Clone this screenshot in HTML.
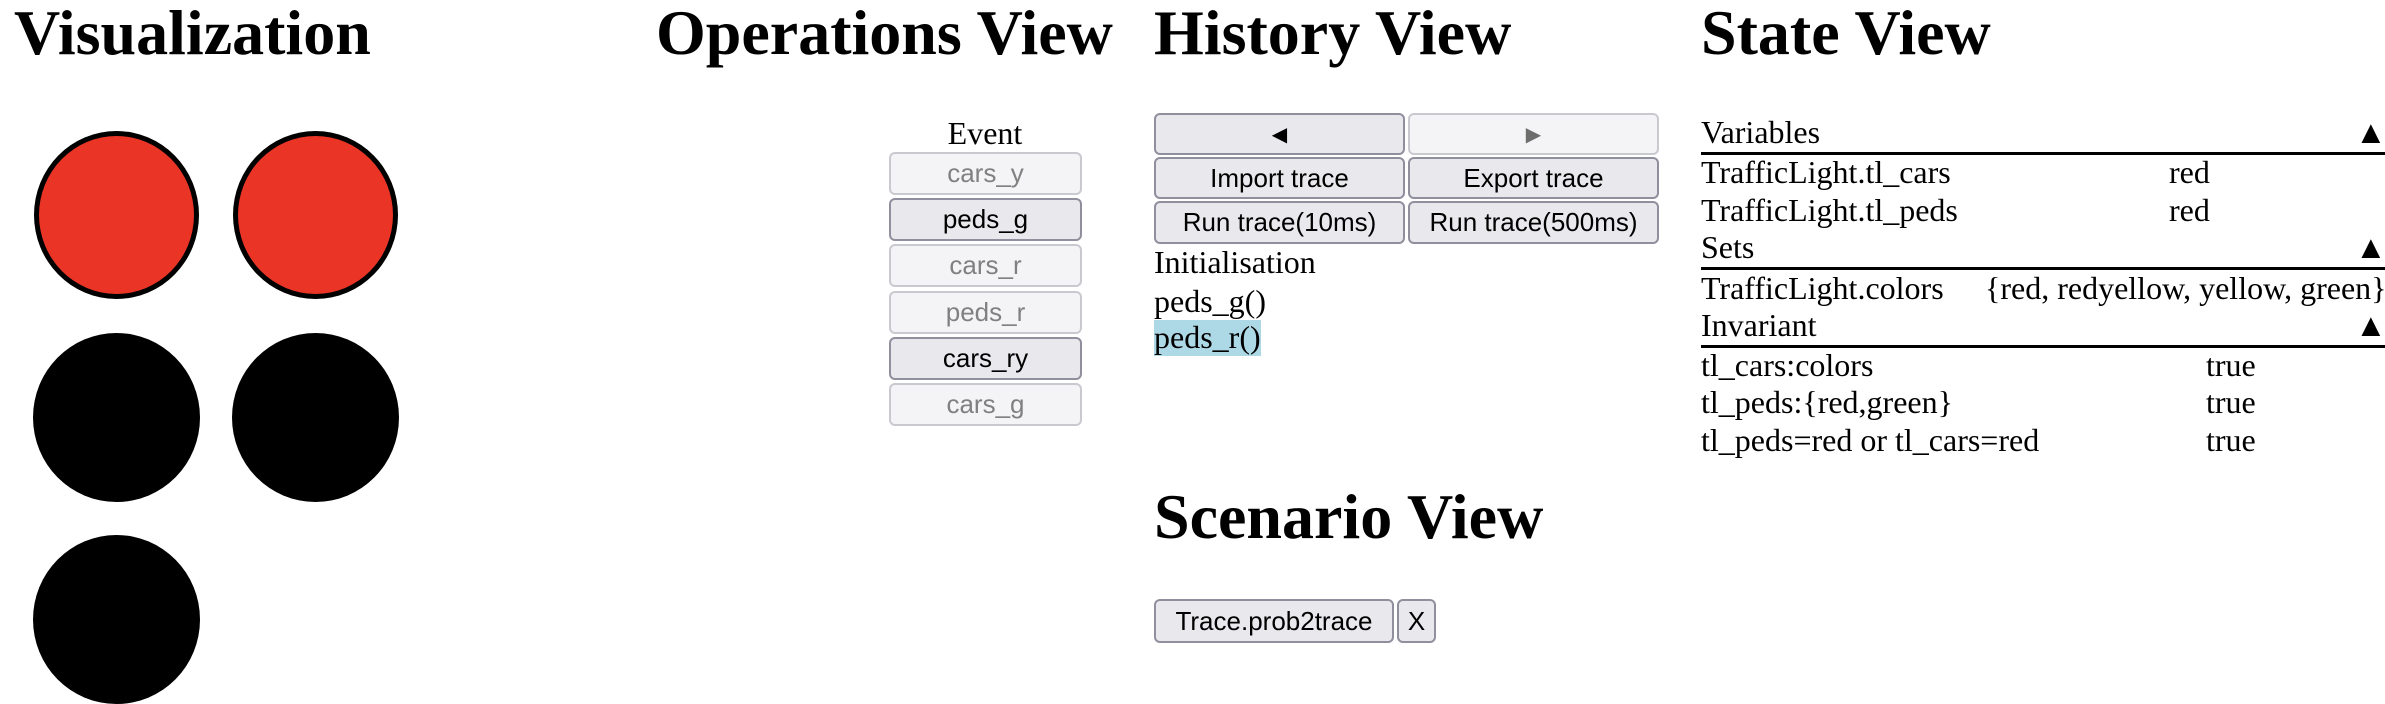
<!DOCTYPE html>
<html><head><meta charset="utf-8"><style>
body{margin:0;width:2385px;height:702px;background:#fff;position:relative;overflow:hidden;font-family:"Liberation Serif",serif;color:#000}
.a{position:absolute;white-space:nowrap;line-height:1}
.h{font-weight:bold;font-size:64px}
.t{font-size:32px}
.c{position:absolute;border-radius:50%;box-sizing:border-box}
.b{position:absolute;box-sizing:border-box;border:2px solid #8f8f9d;background:#e9e9ed;border-radius:6px;font-family:"Liberation Sans",sans-serif;font-size:26px;display:flex;align-items:center;justify-content:center;color:#000}
.d{border-color:#c9c9d0;background:#f4f4f6;color:#808080}
.ln{position:absolute;left:1701px;width:684px;height:3px;background:#000}
</style></head><body>
<div class="a h" style="left:14px;top:1px">Visualization</div>
<div class="a h" style="left:656px;top:1px">Operations View</div>
<div class="a h" style="left:1154px;top:1px">History View</div>
<div class="a h" style="left:1701px;top:1px">State View</div>
<div class="a h" style="left:1154px;top:485px">Scenario View</div>

<div class="c" style="left:34px;top:131px;width:165px;height:168px;background:#ea3526;border:5px solid #000"></div>
<div class="c" style="left:233px;top:131px;width:165px;height:168px;background:#ea3526;border:5px solid #000"></div>
<div class="c" style="left:33px;top:333px;width:167px;height:169px;background:#000"></div>
<div class="c" style="left:232px;top:333px;width:167px;height:169px;background:#000"></div>
<div class="c" style="left:33px;top:535px;width:167px;height:169px;background:#000"></div>

<div class="a t" style="left:935px;top:117px;width:100px;text-align:center">Event</div>
<div class="b d" style="left:889px;top:152px;width:193px;height:43px">cars_y</div>
<div class="b" style="left:889px;top:198px;width:193px;height:43px">peds_g</div>
<div class="b d" style="left:889px;top:244px;width:193px;height:43px">cars_r</div>
<div class="b d" style="left:889px;top:291px;width:193px;height:43px">peds_r</div>
<div class="b" style="left:889px;top:337px;width:193px;height:43px">cars_ry</div>
<div class="b d" style="left:889px;top:383px;width:193px;height:43px">cars_g</div>

<div class="b" style="left:1154px;top:113px;width:251px;height:42px;font-size:20px">◀</div>
<div class="b d" style="left:1408px;top:113px;width:251px;height:42px;font-size:20px;color:#6d6d6d">▶</div>
<div class="b" style="left:1154px;top:157px;width:251px;height:42px">Import trace</div>
<div class="b" style="left:1408px;top:157px;width:251px;height:42px">Export trace</div>
<div class="b" style="left:1154px;top:201px;width:251px;height:43px">Run trace(10ms)</div>
<div class="b" style="left:1408px;top:201px;width:251px;height:43px">Run trace(500ms)</div>
<div class="a t" style="left:1154px;top:246px">Initialisation</div>
<div class="a t" style="left:1154px;top:285px">peds_g()</div>
<div style="position:absolute;left:1154px;top:320px;width:107px;height:36px;background:#add8e6"></div>
<div class="a t" style="left:1154px;top:321px">peds_r()</div>

<div class="b" style="left:1154px;top:599px;width:240px;height:44px">Trace.prob2trace</div>
<div class="b" style="left:1397px;top:599px;width:39px;height:44px">X</div>

<div class="a t" style="left:1701px;top:116px">Variables</div>
<div class="a t" style="left:2355px;top:116px">▲</div>
<div class="ln" style="top:152px"></div>
<div class="a t" style="left:1701px;top:156px">TrafficLight.tl_cars</div>
<div class="a t" style="left:2169px;top:156px">red</div>
<div class="a t" style="left:1701px;top:194px">TrafficLight.tl_peds</div>
<div class="a t" style="left:2169px;top:194px">red</div>
<div class="a t" style="left:1701px;top:231px">Sets</div>
<div class="a t" style="left:2355px;top:231px">▲</div>
<div class="ln" style="top:267px"></div>
<div class="a t" style="left:1701px;top:272px">TrafficLight.colors</div>
<div class="a t" style="left:1985px;top:272px">{red, redyellow, yellow, green}</div>
<div class="a t" style="left:1701px;top:309px">Invariant</div>
<div class="a t" style="left:2355px;top:309px">▲</div>
<div class="ln" style="top:345px"></div>
<div class="a t" style="left:1701px;top:349px">tl_cars:colors</div>
<div class="a t" style="left:2206px;top:349px">true</div>
<div class="a t" style="left:1701px;top:386px">tl_peds:{red,green}</div>
<div class="a t" style="left:2206px;top:386px">true</div>
<div class="a t" style="left:1701px;top:424px">tl_peds=red or tl_cars=red</div>
<div class="a t" style="left:2206px;top:424px">true</div>
</body></html>
